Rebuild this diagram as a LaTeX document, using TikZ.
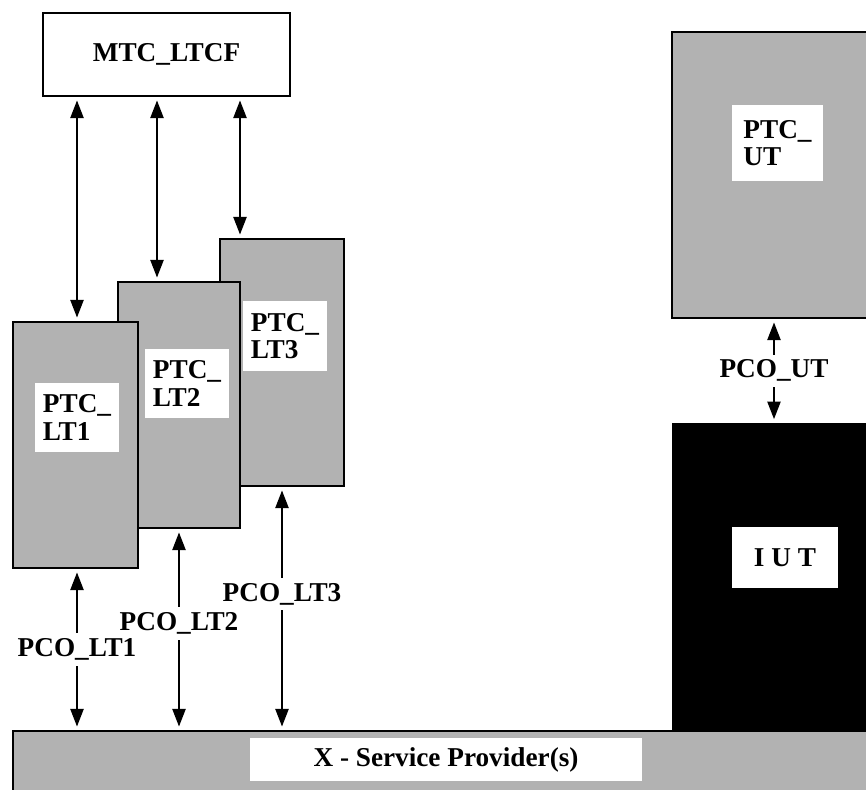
\documentclass[tikz,border=0pt]{standalone}
\usepackage{fontspec}
\setmainfont{Liberation Serif}
\usetikzlibrary{arrows.meta}
\newcommand{\pxu}{0.02cm}

\begin{document}
\begin{tikzpicture}[x=0.02cm, y=-0.02cm,
    font=\fontsize{15.5}{15.5}\selectfont\bfseries,
    ptcbox/.style={draw, line width=1.1pt, fill=black!30, inner sep=0pt},
    lblbox/.style={fill=white, inner sep=0pt, align=left},
    pco/.style={line width=1pt, {Triangle[width=7.5pt,length=10pt]}-{Triangle[width=7.5pt,length=10pt]}, shorten <=2pt, shorten >=2pt},
    pcolbl/.style={fill=white, inner xsep=2pt, inner ysep=3pt}]

    \clip (0,0) rectangle (866,790);

    % main test component
    \node[draw, line width=1.1pt, minimum width=247*\pxu, minimum height=83*\pxu] (mtc) at (166.5,54.5) {MTC\_LTCF};

    % parallel test components (lower tester), back to front
    \node[ptcbox, minimum width=124*\pxu, minimum height=247*\pxu] (lt3) at (282,362.5) {};
    \node[lblbox, minimum width=84*\pxu, minimum height=70*\pxu] (lt3lbl) at (285,336) {PTC\_\\LT3};
    \node[ptcbox, minimum width=122*\pxu, minimum height=246*\pxu] (lt2) at (179,405) {};
    \node[lblbox, minimum width=84*\pxu, minimum height=69*\pxu] (lt2lbl) at (187,383.5) {PTC\_\\LT2};
    \node[ptcbox, minimum width=125*\pxu, minimum height=246*\pxu] (lt1) at (75.5,445) {};
    \node[lblbox, minimum width=84*\pxu, minimum height=69*\pxu] (lt1lbl) at (77,417.5) {PTC\_\\LT1};

    % upper tester and IUT
    \node[ptcbox, minimum width=228*\pxu, minimum height=286*\pxu] (ut) at (786,175) {};
    \node[lblbox, minimum width=91*\pxu, minimum height=76*\pxu] (utlbl) at (777.5,143) {PTC\_\\UT};
    \node[draw, fill=black, inner sep=0pt, minimum width=228*\pxu, minimum height=330*\pxu] (iut) at (786,588) {};
    \node[lblbox, minimum width=106*\pxu, minimum height=61*\pxu] (iutlbl) at (785,557.5) {I U T};

    % service provider
    \node[ptcbox, minimum width=887*\pxu, minimum height=89*\pxu] (sp) at (456.5,775.5) {};
    \node[lblbox, minimum width=392*\pxu, minimum height=43*\pxu] (splbl) at (446,759.5) {X - Service Provider(s)};

    % coordination
    \draw[pco] (mtc.south -| 77,0) -- (lt1.north -| 77,0);
    \draw[pco] (mtc.south -| 157,0) -- (lt2.north -| 157,0);
    \draw[pco] (mtc.south -| 240,0) -- (lt3.north -| 240,0);

    % points of control and observation
    \draw[pco] (lt3.south -| 282,0) -- node[pcolbl, pos=0.44] {PCO\_LT3} (sp.north -| 282,0);
    \draw[pco] (lt2.south -| 179,0) -- node[pcolbl, pos=0.47] {PCO\_LT2} (sp.north -| 179,0);
    \draw[pco] (lt1.south -| 77,0) -- node[pcolbl] {PCO\_LT1} (sp.north -| 77,0);
    \draw[pco] (ut.south -| 774,0) -- node[pcolbl] {PCO\_UT} (iut.north -| 774,0);

\end{tikzpicture}
\end{document}
